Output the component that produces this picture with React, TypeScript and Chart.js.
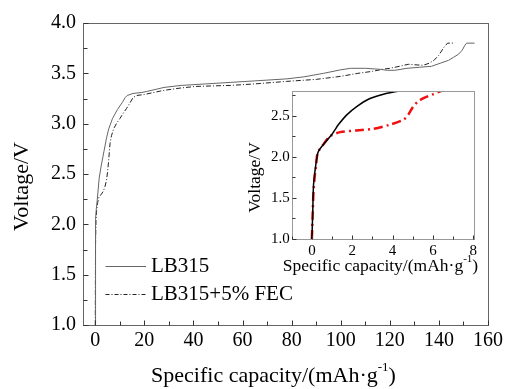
import { useEffect, useRef } from "react";
import { Chart, registerables } from "chart.js";
Chart.register(...registerables);

const FONT = "'Liberation Serif', 'Times New Roman', serif";

// ---- main chart data (specific capacity mAh/g, voltage V)
const lb315Capacity = [0, 0.05, 0.1, 0.2, 0.4, 0.8, 1.2, 1.6, 2.4, 3.5, 4.6, 5.5, 7, 9, 11, 12.2, 13, 15.4, 19, 21, 28, 35, 45, 55, 65, 78, 85, 93, 100, 104, 110, 116, 119, 122, 127, 132, 137, 140.5, 144, 146, 148, 149.5, 150.6, 151.3, 154.5];
const lb315Voltage = [1.0, 1.4, 1.8, 2.05, 2.15, 2.24, 2.35, 2.46, 2.58, 2.72, 2.86, 2.95, 3.05, 3.14, 3.21, 3.26, 3.28, 3.30, 3.31, 3.32, 3.36, 3.38, 3.395, 3.41, 3.425, 3.445, 3.465, 3.50, 3.535, 3.55, 3.55, 3.54, 3.53, 3.53, 3.55, 3.56, 3.57, 3.60, 3.63, 3.66, 3.69, 3.73, 3.78, 3.80, 3.80];
const fecCapacity = [0, 0.05, 0.1, 0.3, 0.6, 1.0, 1.5, 2.5, 3.3, 4.0, 4.6, 5.0, 5.4, 6.0, 6.6, 7.5, 8.6, 10, 11.3, 12.7, 14, 15.4, 17, 20, 27.7, 35, 41, 55, 65, 78, 90, 100, 107, 113, 117, 120, 124, 127.5, 130, 133.6, 136, 138, 140, 141.8, 143.5, 146.5];
const fecVoltage = [1.0, 1.4, 1.8, 2.05, 2.15, 2.22, 2.27, 2.30, 2.33, 2.38, 2.44, 2.52, 2.62, 2.80, 2.88, 2.95, 3.00, 3.05, 3.10, 3.15, 3.20, 3.26, 3.28, 3.29, 3.33, 3.355, 3.37, 3.38, 3.395, 3.42, 3.44, 3.47, 3.50, 3.52, 3.54, 3.55, 3.57, 3.59, 3.585, 3.58, 3.60, 3.63, 3.68, 3.75, 3.80, 3.80];

// ---- inset data
const insetLb315Capacity = [0, 0.04, 0.08, 0.15, 0.21, 0.27, 0.33, 0.57, 0.99, 1.15, 1.31, 1.73, 2.22, 2.8, 3.54, 4.0, 4.4];
const insetLb315Voltage = [1.0, 1.3, 1.65, 1.82, 1.93, 2.02, 2.07, 2.15, 2.27, 2.33, 2.39, 2.51, 2.61, 2.70, 2.76, 2.785, 2.80];
const insetFecCapacity = [0, 0.04, 0.08, 0.15, 0.21, 0.25, 0.33, 0.57, 0.9, 1.4, 2.22, 3.04, 3.87, 4.53, 4.77, 5.02, 5.25, 5.51, 6.0, 6.4];
const insetFecVoltage = [1.0, 1.3, 1.57, 1.78, 1.89, 2.0, 2.07, 2.15, 2.25, 2.30, 2.32, 2.34, 2.39, 2.45, 2.51, 2.61, 2.67, 2.71, 2.76, 2.80];

// ---- ticks & labels
const mainXTicks = [0, 20, 40, 60, 80, 100, 120, 140, 160];
const mainYTicks = [1.0, 1.5, 2.0, 2.5, 3.0, 3.5, 4.0];
const insetXTicks = [0, 2, 4, 6, 8];
const insetYTicks = [1.0, 1.5, 2.0, 2.5];
const seriesLabels = ["LB315", "LB315+5% FEC"];
const yTitle = "Voltage/V";
const xTitleBase = "Specific capacity/(mAh·g";
const xTitleSup = "-1";
const xTitleEnd = ")";

const pts = (xs: number[], ys: number[]) => xs.map((x, i) => ({ x, y: ys[i] }));

function minorsOf(majors: number[], min: number, max: number) {
  const out: number[] = [];
  const step = majors[1] - majors[0];
  for (let i = 0; i < majors.length - 1; i++) out.push((majors[i] + majors[i + 1]) / 2);
  const below = majors[0] - step / 2;
  const above = majors[majors.length - 1] + step / 2;
  if (below >= min) out.push(below);
  if (above <= max) out.push(above);
  return out;
}

function drawXTitle(ctx: CanvasRenderingContext2D, cx: number, cy: number, size: number) {
  const big = `${size}px ${FONT}`;
  const small = `${Math.round(size * 0.6)}px ${FONT}`;
  ctx.font = big;
  const w1 = ctx.measureText(xTitleBase).width;
  const w3 = ctx.measureText(xTitleEnd).width;
  ctx.font = small;
  const w2 = ctx.measureText(xTitleSup).width;
  let x = cx - (w1 + w2 + w3) / 2;
  ctx.fillStyle = "#000";
  ctx.textAlign = "left";
  ctx.textBaseline = "middle";
  ctx.font = big;
  ctx.fillText(xTitleBase, x, cy);
  x += w1;
  ctx.font = small;
  ctx.fillText(xTitleSup, x, cy - size * 0.42);
  x += w2;
  ctx.font = big;
  ctx.fillText(xTitleEnd, x, cy);
}

function drawYTitle(ctx: CanvasRenderingContext2D, cx: number, cy: number, size: number) {
  ctx.save();
  ctx.translate(cx, cy);
  ctx.rotate(-Math.PI / 2);
  ctx.font = `${size}px ${FONT}`;
  ctx.fillStyle = "#000";
  ctx.textAlign = "center";
  ctx.textBaseline = "middle";
  ctx.fillText(yTitle, 0, 0);
  ctx.restore();
}

function framePlugin(cfg: {
  xMaj: number[]; yMaj: number[]; frameColor: string; majLen: number; minLen: number;
  title: (ctx: CanvasRenderingContext2D) => void;
  legend?: boolean;
}) {
  return {
    id: "frameTicks",
    afterDraw(chart: any) {
      const ctx: CanvasRenderingContext2D = chart.ctx;
      const { left, right, top, bottom } = chart.chartArea;
      const xs = chart.scales.x;
      const ys = chart.scales.y;
      ctx.save();
      ctx.strokeStyle = cfg.frameColor;
      ctx.lineWidth = 1;
      ctx.setLineDash([]);
      ctx.strokeRect(Math.round(left) + 0.5, Math.round(top) + 0.5, Math.round(right - left), Math.round(bottom - top));
      ctx.strokeStyle = "#333";
      ctx.beginPath();
      const xMin = minorsOf(cfg.xMaj, xs.min, xs.max);
      const yMin = minorsOf(cfg.yMaj, ys.min, ys.max);
      const b = Math.round(bottom) + 0.5;
      const l = Math.round(left) + 0.5;
      for (const v of cfg.xMaj) { const p = Math.round(xs.getPixelForValue(v)) + 0.5; ctx.moveTo(p, b); ctx.lineTo(p, b - cfg.majLen); }
      for (const v of xMin) { const p = Math.round(xs.getPixelForValue(v)) + 0.5; ctx.moveTo(p, b); ctx.lineTo(p, b - cfg.minLen); }
      for (const v of cfg.yMaj) { const p = Math.round(ys.getPixelForValue(v)) + 0.5; ctx.moveTo(l, p); ctx.lineTo(l + cfg.majLen, p); }
      for (const v of yMin) { const p = Math.round(ys.getPixelForValue(v)) + 0.5; ctx.moveTo(l, p); ctx.lineTo(l + cfg.minLen, p); }
      ctx.stroke();
      if (cfg.legend) {
        const rows = [
          { y: 266.5, dash: [] as number[], color: "#666", label: seriesLabels[0] },
          { y: 294.5, dash: [4, 2, 1, 2], color: "#222", label: seriesLabels[1] },
        ];
        for (const r of rows) {
          ctx.strokeStyle = r.color;
          ctx.setLineDash(r.dash);
          ctx.beginPath();
          ctx.moveTo(105.5, r.y);
          ctx.lineTo(146, r.y);
          ctx.stroke();
          ctx.setLineDash([]);
          ctx.fillStyle = "#000";
          ctx.font = `21px ${FONT}`;
          ctx.textAlign = "left";
          ctx.textBaseline = "middle";
          ctx.fillText(r.label, 151, r.y);
        }
      }
      cfg.title(ctx);
      ctx.restore();
    },
  };
}

function scaleOpts(min: number, max: number, ticks: number[], size: number, pad: number, fitSize: number, vertical: boolean, fmt: (v: number) => string) {
  return {
    type: "linear",
    min,
    max,
    afterBuildTicks: (s: any) => { s.ticks = ticks.map((v) => ({ value: v })); },
    afterFit: (s: any) => { if (vertical) s.width = fitSize; else s.height = fitSize; },
    grid: { display: false, drawTicks: false },
    border: { display: false },
    ticks: {
      autoSkip: false,
      maxRotation: 0,
      padding: pad,
      color: "#000",
      font: { family: FONT, size },
      callback: (v: any) => fmt(Number(v)),
    },
  };
}

export default function App() {
  const mainRef = useRef<HTMLCanvasElement>(null);
  const insetRef = useRef<HTMLCanvasElement>(null);

  useEffect(() => {
    document.body.style.margin = "0";
    const main = new Chart(mainRef.current!, {
      type: "scatter",
      data: {
        datasets: [
          { label: seriesLabels[0], data: pts(lb315Capacity, lb315Voltage), showLine: true, borderColor: "#666", borderWidth: 1, pointRadius: 0, tension: 0 },
          { label: seriesLabels[1], data: pts(fecCapacity, fecVoltage), showLine: true, borderColor: "#222", borderWidth: 1, borderDash: [5, 2, 1, 2], pointRadius: 0, tension: 0 },
        ],
      },
      options: {
        responsive: false,
        animation: false,
        devicePixelRatio: 1,
        layout: { padding: { left: 0, right: 19, top: 23, bottom: 0 } },
        plugins: { legend: { display: false }, tooltip: { enabled: false } },
        scales: {
          x: scaleOpts(-5, 160, mainXTicks, 20, 4, 64, false, (v) => String(v)) as any,
          y: scaleOpts(1, 4, mainYTicks, 20, 7, 83, true, (v) => v.toFixed(1)) as any,
        },
      },
      plugins: [framePlugin({
        xMaj: mainXTicks, yMaj: mainYTicks, frameColor: "#666", majLen: 5, minLen: 4, legend: true,
        title: (ctx) => { drawXTitle(ctx, 273.5, 376.5, 22); drawYTitle(ctx, 22, 186.5, 22); },
      })],
    });

    const inset = new Chart(insetRef.current!, {
      type: "scatter",
      data: {
        datasets: [
          { label: seriesLabels[0], data: pts(insetLb315Capacity, insetLb315Voltage), showLine: true, borderColor: "#000", borderWidth: 1.5, pointRadius: 0, tension: 0.3 },
          { label: seriesLabels[1], data: pts(insetFecCapacity, insetFecVoltage), showLine: true, borderColor: "#ee1111", borderWidth: 2.5, borderDash: [9, 4, 2, 4], pointRadius: 0, tension: 0.3 },
        ],
      },
      options: {
        responsive: false,
        animation: false,
        devicePixelRatio: 1,
        layout: { padding: { left: 0, right: 16.7, top: 9.3, bottom: 0 } },
        plugins: { legend: { display: false }, tooltip: { enabled: false } },
        scales: {
          x: scaleOpts(-1, 8, insetXTicks, 15, 3, 51, false, (v) => String(v)) as any,
          y: scaleOpts(1, 2.8, insetYTicks, 15, 2, 51.7, true, (v) => v.toFixed(1)) as any,
        },
      },
      plugins: [framePlugin({
        xMaj: insetXTicks, yMaj: insetYTicks, frameColor: "#999", majLen: 4, minLen: 3,
        title: (ctx) => { drawXTitle(ctx, 140.5, 186.7, 17.5); drawYTitle(ctx, 15, 97.5, 17.5); },
      })],
    });

    return () => { main.destroy(); inset.destroy(); };
  }, []);

  return (
    <div style={{ position: "relative", width: 507, height: 389 }}>
      <canvas ref={mainRef} width={507} height={389} style={{ display: "block", position: "absolute", left: 0, top: 0 }} />
      <canvas ref={insetRef} width={250} height={210} style={{ display: "block", position: "absolute", left: 240, top: 80 }} />
    </div>
  );
}
